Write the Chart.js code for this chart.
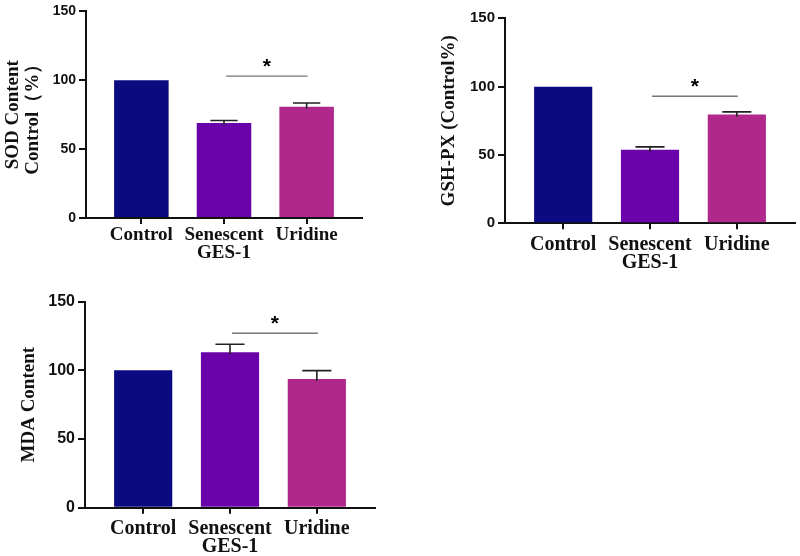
<!DOCTYPE html>
<html>
<head>
<meta charset="utf-8">
<script src="https://cdn.jsdelivr.net/npm/chart.js@4"></script>
<style>
  html, body { margin: 0; padding: 0; background: #fff; }
  body { width: 800px; height: 556px; position: relative; overflow: hidden; }
  canvas { position: absolute; }
</style>
</head>
<body>
<canvas id="sod"></canvas>
<canvas id="gsh"></canvas>
<canvas id="mda"></canvas>
<script>
// Data
const categories = [["Control"], ["Senescent", "GES-1"], ["Uridine"]];
const barColors = ["#0c0a80", "#6a04aa", "#b0288c"];
const yTicks = [0, 50, 100, 150];

const sodValues = [100, 69, 80.7];
const sodErrors = [0, 1.8, 2.8];
const sodSig = [1, 2, 103];   // from category, to category, line level

const gshValues = [100, 53.9, 79.6];
const gshErrors = [0, 2, 1.9];
const gshSig = [1, 2, 93];

const mdaValues = [100, 113.2, 93.7];
const mdaErrors = [0, 5.8, 6.1];
const mdaSig = [1, 2, 127];

// error bars + significance line, drawn through the chart scales
const markerPlugin = {
  id: "markers",
  afterDatasetsDraw(chart, args, opts) {
    const ctx = chart.ctx;
    const xs = chart.scales.x;
    const ys = chart.scales.y;
    const meta = chart.getDatasetMeta(0);
    ctx.save();
    // error bars
    ctx.strokeStyle = "#222";
    ctx.lineWidth = 1.6;
    opts.errors.forEach((err, i) => {
      if (!err) return;
      const v = opts.values[i];
      const x = xs.getPixelForValue(i);
      const yTop = ys.getPixelForValue(v + err);
      const yBar = ys.getPixelForValue(v) + 2;
      const half = meta.data[i].width / 4;
      ctx.beginPath();
      ctx.moveTo(x, yBar);
      ctx.lineTo(x, yTop);
      ctx.moveTo(x - half, yTop);
      ctx.lineTo(x + half, yTop);
      ctx.stroke();
    });
    // significance line and star
    const [a, b, level] = opts.sig;
    const x1 = xs.getPixelForValue(a) + 2;
    const x2 = xs.getPixelForValue(b) + 1;
    const y = ys.getPixelForValue(level);
    ctx.strokeStyle = "#777";
    ctx.lineWidth = 1.4;
    ctx.beginPath();
    ctx.moveTo(x1, y);
    ctx.lineTo(x2, y);
    ctx.stroke();
    ctx.fillStyle = "#000";
    ctx.font = "bold 21px 'Liberation Sans', Arial, sans-serif";
    ctx.textAlign = "center";
    ctx.textBaseline = "alphabetic";
    ctx.fillText("*", (x1 + x2) / 2, y - 3);
    ctx.restore();
  }
};

function makeChart(id, spec) {
  const canvas = document.getElementById(id);
  canvas.width = spec.w;
  canvas.height = spec.h;
  canvas.style.left = spec.left + "px";
  canvas.style.top = spec.top + "px";
  canvas.style.width = spec.w + "px";
  canvas.style.height = spec.h + "px";

  const yWidth = spec.area.l - spec.left;
  const xHeight = spec.top + spec.h - spec.area.b;
  const titleLine = spec.titleSize * 1.05;

  return new Chart(canvas.getContext("2d"), {
    type: "bar",
    data: {
      datasets: [
        {
          data: spec.values.map((v, i) => ({ x: i, y: v })),
          backgroundColor: barColors,
          borderWidth: 0,
          categoryPercentage: 1,
          barPercentage: spec.barPct
        }
      ]
    },
    options: {
      responsive: false,
      animation: false,
      devicePixelRatio: 1,
      layout: {
        padding: {
          left: 0,
          top: spec.area.t - spec.top,
          right: spec.left + spec.w - spec.area.r,
          bottom: 0
        }
      },
      plugins: {
        legend: { display: false },
        tooltip: { enabled: false },
        markers: { values: spec.values, errors: spec.errors, sig: spec.sig }
      },
      scales: {
        x: {
          type: "linear",
          min: -0.67,
          max: 2.67,
          offset: false,
          afterBuildTicks: (s) => { s.ticks = categories.map((c, i) => ({ value: i })); },
          afterFit: (s) => { s.height = xHeight; },
          border: { display: true, color: "#111", width: 2 },
          grid: { offset: false, drawOnChartArea: false, drawTicks: true, tickLength: 6, color: "#111", lineWidth: 2 },
          ticks: {
            padding: spec.xPad,
            color: "#111",
            maxRotation: 0,
            autoSkip: false,
            font: { family: "'Liberation Serif', 'Times New Roman', serif", weight: "bold", size: spec.xSize, lineHeight: 0.9 },
            callback: (v) => categories[v]
          }
        },
        y: {
          min: 0,
          max: 150,
          afterBuildTicks: (s) => { s.ticks = yTicks.map((v) => ({ value: v })); },
          afterFit: (s) => { s.width = yWidth; },
          border: { display: true, color: "#111", width: 2 },
          grid: { drawOnChartArea: false, drawTicks: true, tickLength: 7, color: "#111", lineWidth: 2 },
          ticks: {
            padding: 3,
            color: "#111",
            font: { family: "'Liberation Sans', Arial, sans-serif", weight: "bold", size: spec.ySize }
          },
          title: {
            display: true,
            text: spec.title,
            color: "#111",
            padding: { top: spec.titleCenter - spec.left - titleLine / 2, bottom: 0 },
            font: { family: "'Liberation Serif', 'Times New Roman', serif", weight: "bold", size: spec.titleSize, lineHeight: 1.05 }
          }
        }
      }
    },
    plugins: [markerPlugin]
  });
}

makeChart("sod", {
  left: 0, top: 0, w: 380, h: 275,
  area: { l: 86, t: 11, r: 362, b: 218 },
  values: sodValues, errors: sodErrors, sig: sodSig,
  title: ["SOD Content", "Control（%）"], titleCenter: 13.5, titleSize: 19,
  xSize: 19, xPad: 3, ySize: 14, barPct: 0.66
});

makeChart("gsh", {
  left: 430, top: 0, w: 370, h: 285,
  area: { l: 505, t: 18.3, r: 795, b: 223.3 },
  values: gshValues, errors: gshErrors, sig: gshSig,
  title: "GSH-PX (Control%)", titleCenter: 449, titleSize: 19,
  xSize: 20, xPad: 7, ySize: 15, barPct: 0.67
});

makeChart("mda", {
  left: 0, top: 285, w: 400, h: 271,
  area: { l: 85, t: 301.7, r: 375, b: 507.7 },
  values: mdaValues, errors: mdaErrors, sig: mdaSig,
  title: "MDA Content", titleCenter: 29.5, titleSize: 19,
  xSize: 20, xPad: 6, ySize: 16, barPct: 0.67
});
</script>
</body>
</html>
